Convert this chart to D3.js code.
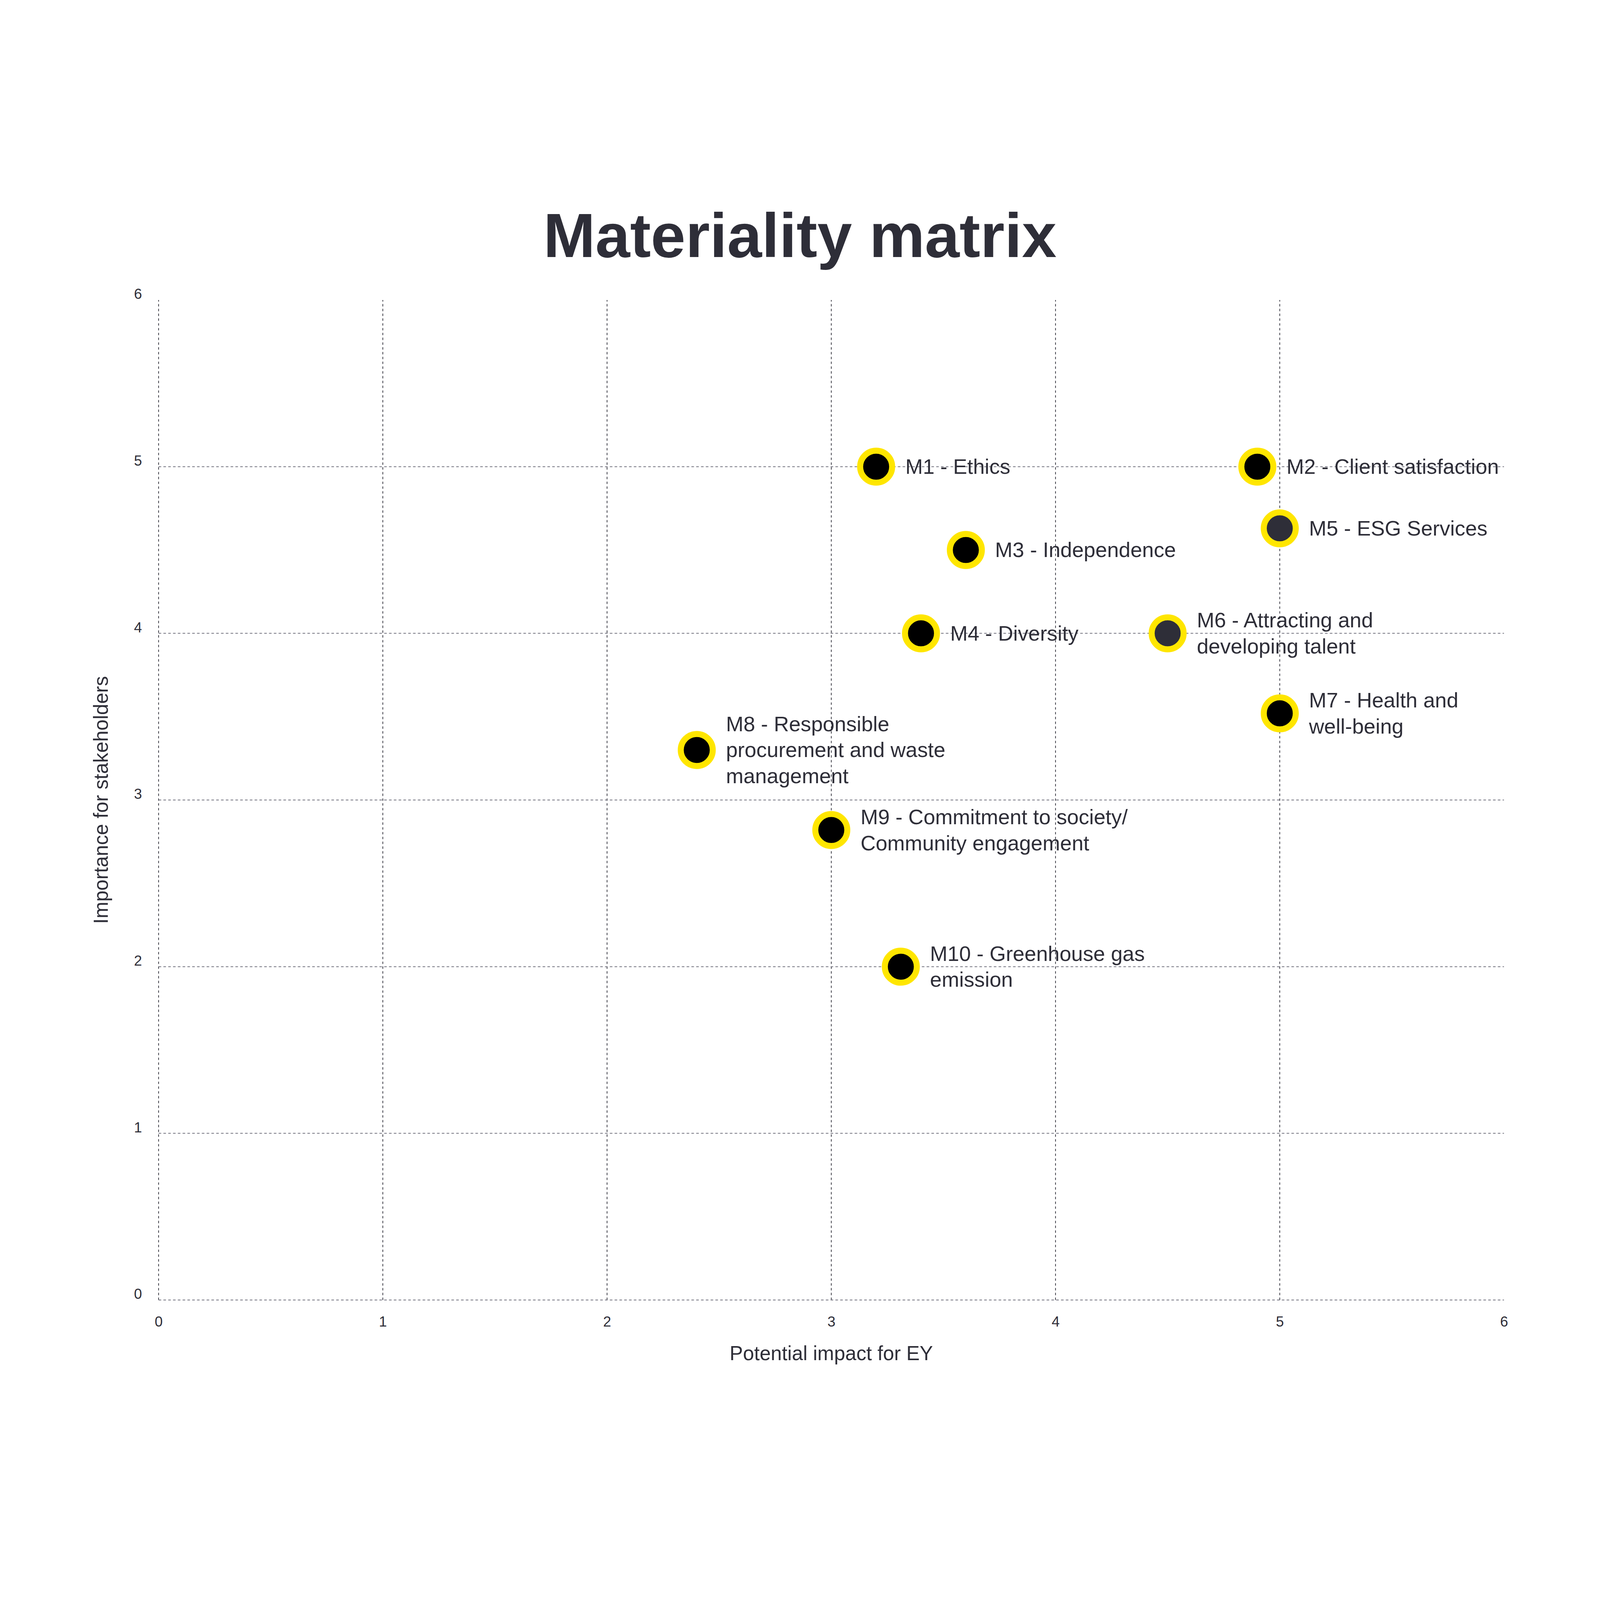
<!DOCTYPE html>
<html>
<head>
<meta charset="utf-8">
<script src="https://cdn.jsdelivr.net/npm/d3@7"></script>
<style>
  html, body { margin: 0; padding: 0; background: #fff; overflow: hidden; }
  svg { display: block; width: 100vw; height: 100vh; }
  text { font-family: "Liberation Sans", Arial, sans-serif; }
</style>
</head>
<body>
<script>
var topics = ["M1", "M2", "M3", "M4", "M5", "M6", "M7", "M8", "M9", "M10"];
var labelLines = [
  ["M1 - Ethics"],
  ["M2 - Client satisfaction"],
  ["M3 - Independence"],
  ["M4 - Diversity"],
  ["M5 - ESG Services"],
  ["M6 - Attracting and", "developing talent"],
  ["M7 - Health and", "well-being"],
  ["M8 - Responsible", "procurement and waste", "management"],
  ["M9 - Commitment to society/", "Community engagement"],
  ["M10 - Greenhouse gas", "emission"]
];
var impact = [3.2, 4.9, 3.6, 3.4, 5.0, 4.5, 5.0, 2.4, 3.0, 3.31];
var importance = [5.0, 5.0, 4.5, 4.0, 4.63, 4.0, 3.52, 3.3, 2.82, 2.0];
var xTicks = [0, 1, 2, 3, 4, 5, 6];
var yTicks = [0, 1, 2, 3, 4, 5, 6];

var width = 8000, height = 6250;
var ink = "#2e2e38", yellow = "#ffe600";
var darkOnes = ["M5", "M6"];

var points = topics.map(function(t, i) {
  return { id: t, lines: labelLines[i], x: impact[i], y: importance[i] };
});

var svg = d3.select("body").append("svg")
    .attr("viewBox", "0 0 " + width + " " + height)
    .attr("preserveAspectRatio", "xMidYMid meet");

var x = d3.scaleLinear().domain([0, 6]).range([793, 7520]);
var y = d3.scaleLinear().domain([0, 6]).range([5625, 625]);

// title
svg.append("text")
    .attr("x", width / 2)
    .attr("y", 410)
    .attr("text-anchor", "middle")
    .style("font-size", "312px")
    .style("font-weight", "bold")
    .style("fill", ink)
    .text("Materiality matrix");

// grid
svg.append("g").selectAll("line")
    .data(xTicks.filter(function(d) { return d < 6; }))
  .enter().append("line")
    .attr("x1", function(d) { return x(d); })
    .attr("x2", function(d) { return x(d); })
    .attr("y1", y(0))
    .attr("y2", y(6))
    .attr("stroke", ink)
    .attr("stroke-width", 3.5)
    .attr("stroke-dasharray", "12 12");

svg.append("g").selectAll("line")
    .data(yTicks.filter(function(d) { return d < 6; }))
  .enter().append("line")
    .attr("x1", x(0))
    .attr("x2", x(6))
    .attr("y1", function(d) { return y(d); })
    .attr("y2", function(d) { return y(d); })
    .attr("stroke", "#747480")
    .attr("stroke-width", 4)
    .attr("stroke-dasharray", "13 11");

// axes (labels only)
var gx = svg.append("g")
    .attr("transform", "translate(0," + y(0) + ")")
    .call(d3.axisBottom(x).tickValues(xTicks).tickSize(0).tickFormat(d3.format("d")));
gx.select(".domain").remove();
gx.attr("font-size", 72).attr("font-family", null).style("color", ink);
gx.selectAll("text").attr("y", 132).attr("dy", null);

var gy = svg.append("g")
    .attr("transform", "translate(" + x(0) + ",0)")
    .call(d3.axisLeft(y).tickValues(yTicks).tickSize(0).tickFormat(d3.format("d")));
gy.select(".domain").remove();
gy.attr("font-size", 72).attr("font-family", null).style("color", ink);
gy.selectAll("text")
    .attr("x", -103)
    .attr("y", -6)
    .attr("dy", null)
    .attr("text-anchor", "middle");

// axis titles
svg.append("text")
    .attr("x", (x(0) + x(6)) / 2)
    .attr("y", 5925)
    .attr("text-anchor", "middle")
    .style("font-size", "100px")
    .style("fill", ink)
    .text("Potential impact for EY");

svg.append("text")
    .attr("transform", "translate(540," + (y(0) + y(6)) / 2 + ") rotate(-90)")
    .attr("text-anchor", "middle")
    .style("font-size", "100px")
    .style("fill", ink)
    .text("Importance for stakeholders");

// points
var pt = svg.append("g").selectAll("g")
    .data(points)
  .enter().append("g")
    .attr("transform", function(d) { return "translate(" + x(d.x) + "," + y(d.y) + ")"; });

pt.append("circle")
    .attr("r", 80)
    .attr("fill", function(d) { return darkOnes.indexOf(d.id) >= 0 ? ink : "#000"; })
    .attr("stroke", yellow)
    .attr("stroke-width", 30);

var label = pt.append("text")
    .style("font-size", "105px")
    .style("fill", ink);

label.selectAll("tspan")
    .data(function(d) {
      var n = d.lines.length;
      return d.lines.map(function(s, i) { return { s: s, dy: 36 + (i - (n - 1) / 2) * 130 }; });
    })
  .enter().append("tspan")
    .attr("x", 146)
    .attr("y", function(d) { return d.dy; })
    .text(function(d) { return d.s; });
</script>
</body>
</html>
